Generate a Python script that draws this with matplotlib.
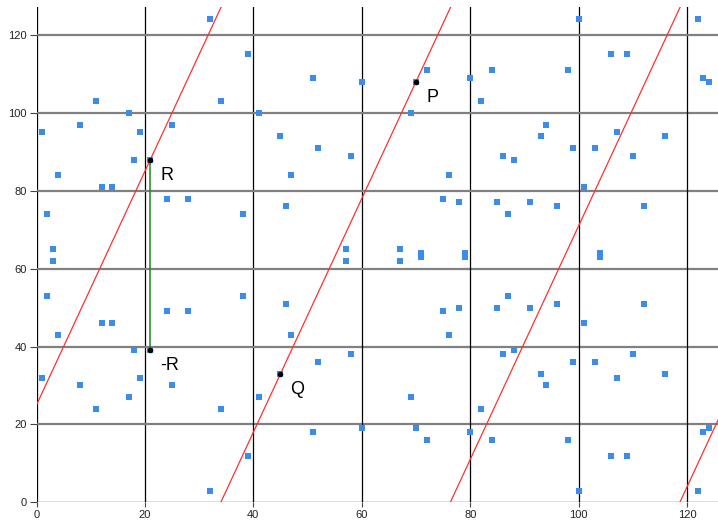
import matplotlib.pyplot as plt

# points of the curve (x, y pairs)
pt_x = [1, 2, 3, 4, 8, 11, 12, 14, 17, 18, 19, 21, 24, 25, 28, 32, 34, 38, 39, 41,
        45, 46, 47, 51, 52, 57, 58, 60, 67, 69, 70, 71, 72, 75, 76, 78, 79, 80, 82, 84,
        85, 86, 87, 88, 91, 93, 94, 96, 98, 99, 100, 101, 103, 104, 106, 107, 109, 110,
        112, 116, 122, 123, 124]
pt_y_lo = [32, 53, 62, 43, 30, 24, 46, 46, 27, 39, 32, 39, 49, 30, 49, 3, 24, 53, 12, 27,
           33, 51, 43, 18, 36, 62, 38, 19, 62, 27, 19, 63, 16, 49, 43, 50, 63, 18, 24, 16,
           50, 38, 53, 39, 50, 33, 30, 51, 16, 36, 3, 46, 36, 63, 12, 32, 12, 38,
           51, 33, 3, 18, 19]
pt_y_hi = [95, 74, 65, 84, 97, 103, 81, 81, 100, 88, 95, 88, 78, 97, 78, 124, 103, 74, 115, 100,
           94, 76, 84, 109, 91, 65, 89, 108, 65, 100, 108, 64, 111, 78, 84, 77, 64, 109, 103, 111,
           77, 89, 74, 88, 77, 94, 97, 76, 111, 91, 124, 81, 91, 64, 115, 95, 115, 89,
           76, 94, 124, 109, 108]

# line through P and Q, wrapped mod 127
line_slope = 3
line_intercepts = [25, -102, -229, -356]

# labelled points
lab_names = ["P", "Q", "R", "-R"]
lab_x = [70, 45, 21, 21]
lab_y = [108, 33, 88, 39]

W, H = 718, 522
fig = plt.figure(figsize=(W / 100, H / 100), dpi=100)
ax = fig.add_axes([36.5 / W, 19.7 / H, (W - 36.5) / W, (502.3 - 7.3) / H])
ax.set_xlim(0, 125.7)
ax.set_ylim(0, 127.1)

for s in ax.spines.values():
    s.set_visible(False)

xt = list(range(0, 121, 20))
ax.set_xticks(xt)
ax.set_yticks(xt)
for v in xt:
    ax.axvline(v, color="black", lw=0.9, zorder=1)
    ax.axhline(v, color="black" if v == 0 else "#808080", lw=0.9 if v == 0 else 1.6, zorder=1)

ax.tick_params(axis="both", width=0.8, color="#444444", labelsize=8,
               labelcolor="#222222")
ax.tick_params(axis="x", length=3.5, pad=2)
ax.tick_params(axis="y", length=5, pad=2)
for lab in ax.get_xticklabels() + ax.get_yticklabels():
    lab.set_family("Liberation Sans")

ax.scatter(pt_x + pt_x, pt_y_lo + pt_y_hi, marker="s", s=14, color="#3d8bea",
           linewidths=0, zorder=2)

for b in line_intercepts:
    ax.axline((0, b), slope=line_slope, color="#ff3030", lw=0.9, zorder=3)

ax.plot([lab_x[2], lab_x[3]], [lab_y[2], lab_y[3]], color="#1a8a1a", lw=1.1, zorder=4)

ax.scatter(lab_x, lab_y, s=9, color="black", zorder=5)
for name, x, y in zip(lab_names, lab_x, lab_y):
    ax.annotate(name, (x, y), xytext=(10, -7), textcoords="offset pixels",
                ha="left", va="top", fontsize=13, family="Liberation Sans")

fig.savefig("out.png", dpi=100)
